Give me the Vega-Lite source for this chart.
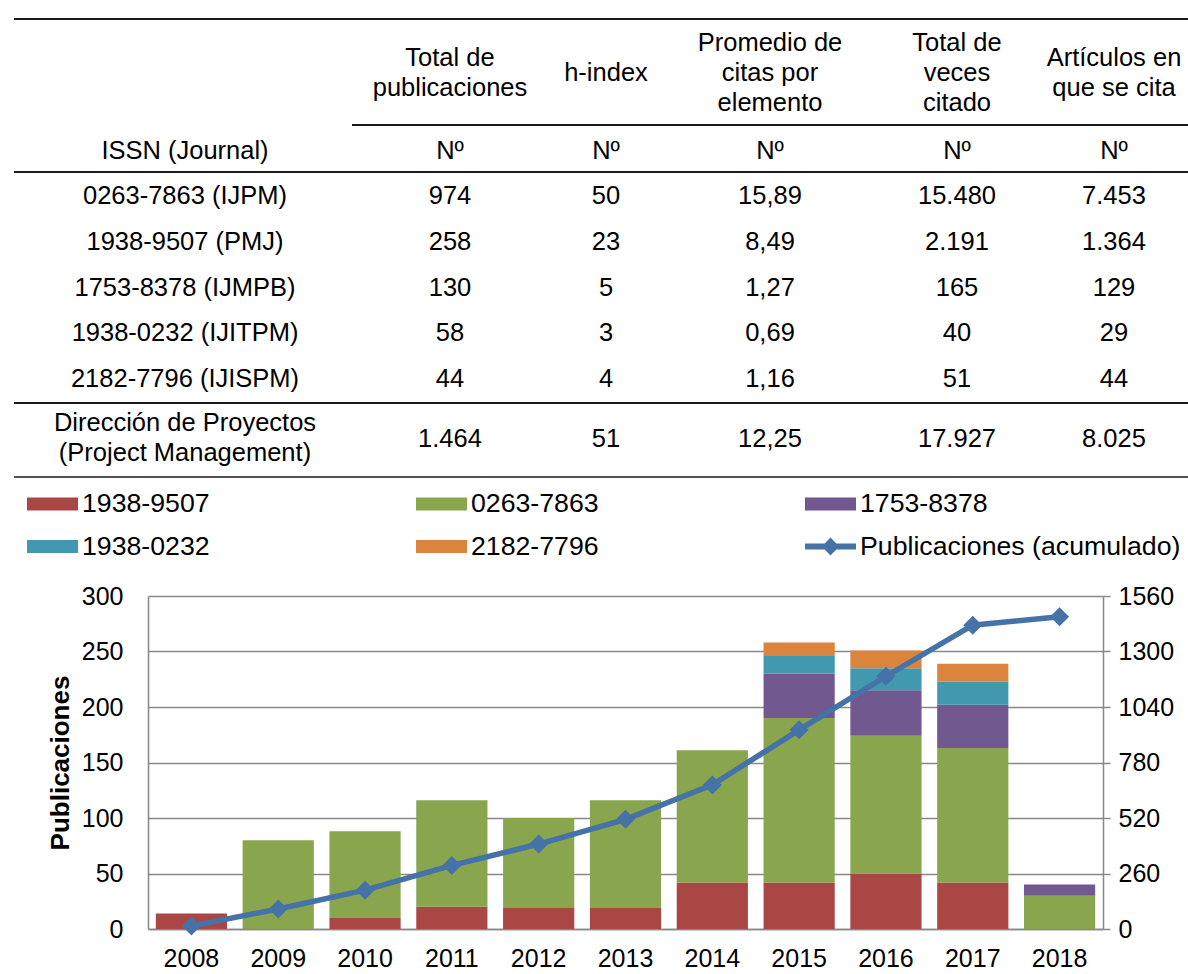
{
  "$schema": "https://vega.github.io/schema/vega-lite/v6.json",
  "background": "white",
  "padding": {"left": 13, "top": 0, "right": 0, "bottom": 0},
  "bounds": "flush",
  "spacing": 116,
  "resolve": {"scale": {"color": "independent"}, "legend": {"color": "independent"}},
  "config": {
    "font": "Liberation Sans",
    "view": {"stroke": null},
    "axis": {"labelColor": "#000", "titleColor": "#000", "labelFont": "Liberation Sans", "titleFont": "Liberation Sans"},
    "legend": {"labelFont": "Liberation Sans", "labelColor": "#000"}
  },
  "vconcat": [
    {
      "width": 955,
      "height": 480,
      "layer": [
        {
          "data": {"values": [
            {"row": 0, "from": -1, "to": 6},
            {"row": 4, "from": 0.5, "to": 6},
            {"row": 6, "from": -1, "to": 6},
            {"row": 12, "from": -1, "to": 6},
            {"row": 15, "from": -1, "to": 6}
          ]},
          "mark": {"type": "rule", "color": "#1a1a1a"},
          "encoding": {
            "x": {"field": "from", "type": "quantitative", "scale": {"domain": [-1, 0, 0.5, 1, 2, 3, 4, 5, 6], "range": [-134, 37, 204, 302, 458, 622, 809, 966, 1040], "nice": false, "zero": false}, "axis": null},
            "x2": {"field": "to"},
            "y": {"field": "row", "type": "quantitative", "scale": {"domain": [0, 1, 2, 3, 4, 5, 6, 7, 8, 9, 10, 11, 12, 13, 14, 15], "range": [19, 43, 58, 73, 125, 151, 172, 196, 242, 288, 333, 379, 403, 423, 439, 477], "nice": false, "zero": false}, "axis": null},
            "strokeWidth": {"condition": {"test": "datum.row === 15", "value": 1.3}, "value": 2}
          }
        },
        {
          "data": {"values": [
            {"row": 2, "col": 1, "t": "Total de\npublicaciones"},
            {"row": 3, "col": 2, "t": "h-index"},
            {"row": 1, "col": 3, "t": "Promedio de\ncitas por\nelemento"},
            {"row": 1, "col": 4, "t": "Total de\nveces\ncitado"},
            {"row": 2, "col": 5, "t": "Artículos en\nque se cita"},
            {"row": 5, "col": 0, "t": "ISSN (Journal)"},
            {"row": 5, "col": 1, "t": "Nº"},
            {"row": 5, "col": 2, "t": "Nº"},
            {"row": 5, "col": 3, "t": "Nº"},
            {"row": 5, "col": 4, "t": "Nº"},
            {"row": 5, "col": 5, "t": "Nº"},
            {"row": 7, "col": 0, "t": "0263-7863 (IJPM)"},
            {"row": 7, "col": 1, "t": "974"},
            {"row": 7, "col": 2, "t": "50"},
            {"row": 7, "col": 3, "t": "15,89"},
            {"row": 7, "col": 4, "t": "15.480"},
            {"row": 7, "col": 5, "t": "7.453"},
            {"row": 8, "col": 0, "t": "1938-9507 (PMJ)"},
            {"row": 8, "col": 1, "t": "258"},
            {"row": 8, "col": 2, "t": "23"},
            {"row": 8, "col": 3, "t": "8,49"},
            {"row": 8, "col": 4, "t": "2.191"},
            {"row": 8, "col": 5, "t": "1.364"},
            {"row": 9, "col": 0, "t": "1753-8378 (IJMPB)"},
            {"row": 9, "col": 1, "t": "130"},
            {"row": 9, "col": 2, "t": "5"},
            {"row": 9, "col": 3, "t": "1,27"},
            {"row": 9, "col": 4, "t": "165"},
            {"row": 9, "col": 5, "t": "129"},
            {"row": 10, "col": 0, "t": "1938-0232 (IJITPM)"},
            {"row": 10, "col": 1, "t": "58"},
            {"row": 10, "col": 2, "t": "3"},
            {"row": 10, "col": 3, "t": "0,69"},
            {"row": 10, "col": 4, "t": "40"},
            {"row": 10, "col": 5, "t": "29"},
            {"row": 11, "col": 0, "t": "2182-7796 (IJISPM)"},
            {"row": 11, "col": 1, "t": "44"},
            {"row": 11, "col": 2, "t": "4"},
            {"row": 11, "col": 3, "t": "1,16"},
            {"row": 11, "col": 4, "t": "51"},
            {"row": 11, "col": 5, "t": "44"},
            {"row": 13, "col": 0, "t": "Dirección de Proyectos\n(Project Management)"},
            {"row": 14, "col": 1, "t": "1.464"},
            {"row": 14, "col": 2, "t": "51"},
            {"row": 14, "col": 3, "t": "12,25"},
            {"row": 14, "col": 4, "t": "17.927"},
            {"row": 14, "col": 5, "t": "8.025"}
          ]},
          "mark": {"type": "text", "fontSize": 25.5, "lineBreak": "\n", "lineHeight": 30, "color": "#000", "align": "center", "baseline": "middle"},
          "encoding": {
            "x": {"field": "col", "type": "quantitative", "scale": {"domain": [-1, 0, 0.5, 1, 2, 3, 4, 5, 6], "range": [-134, 37, 204, 302, 458, 622, 809, 966, 1040], "nice": false, "zero": false}, "axis": null},
            "y": {"field": "row", "type": "quantitative", "scale": {"domain": [0, 1, 2, 3, 4, 5, 6, 7, 8, 9, 10, 11, 12, 13, 14, 15], "range": [19, 43, 58, 73, 125, 151, 172, 196, 242, 288, 333, 379, 403, 423, 439, 477], "nice": false, "zero": false}, "axis": null},
            "text": {"field": "t"}
          }
        }
      ]
    },
    {
      "width": 955,
      "height": 333,
      "layer": [
        {
          "data": {"values": [
            {"year": "2008", "serie": "1938-9507", "value": 14},
            {"year": "2009", "serie": "0263-7863", "value": 80},
            {"year": "2010", "serie": "1938-9507", "value": 10},
            {"year": "2010", "serie": "0263-7863", "value": 78},
            {"year": "2011", "serie": "1938-9507", "value": 20},
            {"year": "2011", "serie": "0263-7863", "value": 96},
            {"year": "2012", "serie": "1938-9507", "value": 19},
            {"year": "2012", "serie": "0263-7863", "value": 81},
            {"year": "2013", "serie": "1938-9507", "value": 19},
            {"year": "2013", "serie": "0263-7863", "value": 97},
            {"year": "2014", "serie": "1938-9507", "value": 42},
            {"year": "2014", "serie": "0263-7863", "value": 119},
            {"year": "2015", "serie": "1938-9507", "value": 42},
            {"year": "2015", "serie": "0263-7863", "value": 148},
            {"year": "2015", "serie": "1753-8378", "value": 40},
            {"year": "2015", "serie": "1938-0232", "value": 16},
            {"year": "2015", "serie": "2182-7796", "value": 12},
            {"year": "2016", "serie": "1938-9507", "value": 50},
            {"year": "2016", "serie": "0263-7863", "value": 124},
            {"year": "2016", "serie": "1753-8378", "value": 41},
            {"year": "2016", "serie": "1938-0232", "value": 20},
            {"year": "2016", "serie": "2182-7796", "value": 16},
            {"year": "2017", "serie": "1938-9507", "value": 42},
            {"year": "2017", "serie": "0263-7863", "value": 121},
            {"year": "2017", "serie": "1753-8378", "value": 39},
            {"year": "2017", "serie": "1938-0232", "value": 21},
            {"year": "2017", "serie": "2182-7796", "value": 16},
            {"year": "2018", "serie": "0263-7863", "value": 30},
            {"year": "2018", "serie": "1753-8378", "value": 10}
          ]},
          "transform": [
            {"calculate": "indexof(['1938-9507', '0263-7863', '1753-8378', '1938-0232', '2182-7796'], datum.serie)", "as": "stackOrder"}
          ],
          "mark": {"type": "bar"},
          "encoding": {
            "x": {"field": "year", "type": "ordinal", "scale": {"paddingInner": 0.18, "paddingOuter": 0.09},
                  "axis": {"title": null, "labelAngle": 0, "ticks": false, "tickSize": 0, "labelPadding": 17, "labelFontSize": 25, "domainColor": "#888", "domainWidth": 1.5, "grid": false}},
            "y": {"field": "value", "type": "quantitative", "stack": "zero", "scale": {"domain": [0, 300], "nice": false},
                  "axis": {"title": "Publicaciones", "titleFontSize": 26, "titleFontWeight": "bold", "titlePadding": 8, "values": [0, 50, 100, 150, 200, 250, 300], "ticks": false, "tickSize": 0, "labelPadding": 25, "labelFontSize": 25, "grid": true, "gridColor": "#888", "gridWidth": 1.5, "domainColor": "#888", "domainWidth": 1.5}},
            "order": {"field": "stackOrder", "type": "quantitative", "sort": "ascending"},
            "color": {"field": "serie", "type": "nominal",
                      "scale": {"domain": ["1938-9507", "0263-7863", "1753-8378", "1938-0232", "2182-7796", "Publicaciones (acumulado)"],
                                "range": ["#AA4643", "#89A54E", "#71588F", "#4198AF", "#DB843D", "#4572A7"]},
                      "legend": {"title": null, "orient": "none", "legendX": -121, "legendY": -118, "direction": "horizontal", "columns": 3, "gridAlign": "all", "columnPadding": 13, "rowPadding": 3, "labelFontSize": 26.7, "labelLimit": 0, "labelOffset": 4, "symbolSize": 2601, "symbolStrokeWidth": 0, "padding": 0,
                                 "encode": {"symbols": {"update": {"shape": {"signal": "datum.value === 'Publicaciones (acumulado)' ? 'M-1,-0.12H-0.23L0,-0.35L0.23,-0.12H1V0.12H0.23L0,0.35L-0.23,0.12H-1Z' : 'M-1,-0.255H1V0.255H-1Z'"}, "opacity": {"value": 1}}}}}}
          }
        },
        {
          "data": {"values": [
            {"year": "2008", "cum": 14},
            {"year": "2009", "cum": 94},
            {"year": "2010", "cum": 182},
            {"year": "2011", "cum": 298},
            {"year": "2012", "cum": 398},
            {"year": "2013", "cum": 514},
            {"year": "2014", "cum": 675},
            {"year": "2015", "cum": 933},
            {"year": "2016", "cum": 1184},
            {"year": "2017", "cum": 1423},
            {"year": "2018", "cum": 1463}
          ]},
          "encoding": {
            "x": {"field": "year", "type": "ordinal"},
            "y": {"field": "cum", "type": "quantitative", "scale": {"domain": [0, 1560], "nice": false},
                  "axis": {"orient": "right", "title": null, "format": "d", "values": [0, 260, 520, 780, 1040, 1300, 1560], "grid": false, "ticks": true, "tickSize": 7, "tickColor": "#888", "tickWidth": 1.5, "labelPadding": 8, "labelFontSize": 25, "domainColor": "#888", "domainWidth": 1.5}}
          },
          "layer": [
            {"mark": {"type": "line", "color": "#4572A7", "strokeWidth": 5.5}},
            {"mark": {"type": "point", "shape": "diamond", "filled": true, "size": 360, "color": "#4572A7", "opacity": 1}}
          ]
        }
      ],
      "resolve": {"scale": {"y": "independent"}}
    }
  ]
}
